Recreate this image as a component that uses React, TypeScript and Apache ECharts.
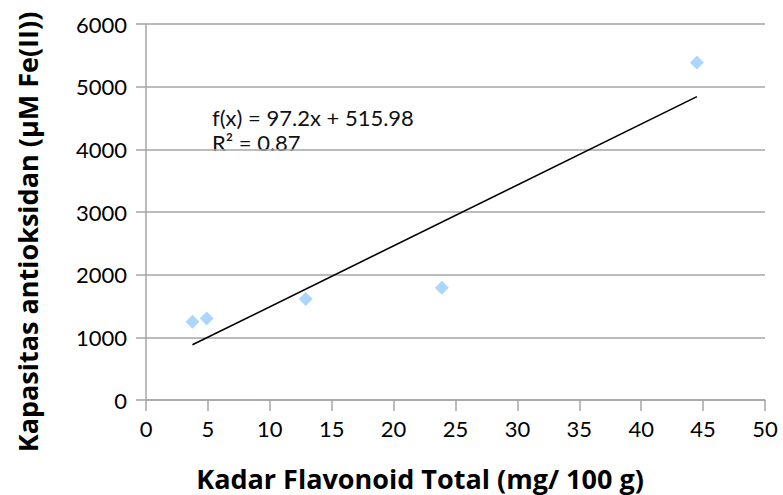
import React, { useEffect, useRef } from "react";
import * as echarts from "echarts";

const xValues = [3.75, 4.9, 12.9, 23.9, 44.5];
const yValues = [1250, 1300, 1612, 1790, 5385];
const trendSlope = 97.2;
const trendIntercept = 515.98;
const equationLines = ["f(x) = 97.2x + 515.98", "R² = 0.87"];
const xTitle = "Kadar Flavonoid Total (mg/ 100 g)";
const yTitle = "Kapasitas antioksidan (µM Fe(II))";

export default function App() {
  const ref = useRef<HTMLDivElement>(null);
  useEffect(() => {
    if (!ref.current) return;
    const chart = echarts.init(ref.current, null, { renderer: "svg" });
    const points = xValues.map((x, i) => [x, yValues[i]]);
    const xMin = Math.min(...xValues);
    const xMax = Math.max(...xValues);
    const trend = [
      [xMin, trendSlope * xMin + trendIntercept],
      [xMax, trendSlope * xMax + trendIntercept],
    ];
    const font = "Lato, 'Open Sans', sans-serif";
    const titleFont = "'Open Sans', Lato, sans-serif";
    const gray = "#a6a6a6";
    chart.setOption({
      animation: false,
      backgroundColor: "#ffffff",
      grid: { left: 146, right: 18, top: 24, bottom: 95, containLabel: false },
      xAxis: {
        type: "value",
        min: 0,
        max: 50,
        interval: 5,
        axisLine: { show: true, lineStyle: { color: gray, width: 1.5 } },
        axisTick: { show: true, length: 11, inside: false, lineStyle: { color: gray, width: 1.5 } },
        splitLine: { show: false },
        axisLabel: { color: "#000", fontSize: 22, fontFamily: font, margin: 17 },
      },
      yAxis: {
        type: "value",
        min: 0,
        max: 6000,
        interval: 1000,
        axisLine: { show: true, lineStyle: { color: gray, width: 1.5 } },
        axisTick: { show: true, length: 10, inside: false, lineStyle: { color: gray, width: 1.5 } },
        splitLine: { show: true, lineStyle: { color: gray, width: 1.5 } },
        axisLabel: {
          color: "#000",
          fontSize: 22,
          fontFamily: font,
          margin: 19,
          formatter: (v: number) => String(v),
        },
      },
      series: [
        {
          type: "line",
          data: trend,
          symbol: "none",
          lineStyle: { color: "#000", width: 1.6 },
          z: 2,
        },
        {
          type: "scatter",
          data: points,
          symbol: "diamond",
          symbolSize: 14,
          itemStyle: { color: "#99ccff" },
          z: 3,
        },
      ],
      graphic: [
        {
          type: "text",
          left: 212,
          top: 105,
          style: {
            text: equationLines.join("\n"),
            fontSize: 22,
            lineHeight: 25,
            fontFamily: font,
            fill: "#111",
          },
        },
        {
          type: "text",
          x: 420,
          y: 478,
          style: {
            text: xTitle,
            fontSize: 27,
            lineHeight: 28,
            fontWeight: "bold",
            fontFamily: titleFont,
            fill: "#000",
            align: "center",
            verticalAlign: "middle",
          },
        },
        {
          type: "text",
          x: 27,
          y: 232,
          rotation: Math.PI / 2,
          style: {
            text: yTitle,
            fontSize: 27,
            lineHeight: 28,
            fontWeight: "bold",
            fontFamily: titleFont,
            fill: "#000",
            align: "center",
            verticalAlign: "middle",
          },
        },
      ],
    });
    return () => chart.dispose();
  }, []);
  return <div ref={ref} style={{ width: 783, height: 495, position: "absolute", left: 0, top: 0 }} />;
}
